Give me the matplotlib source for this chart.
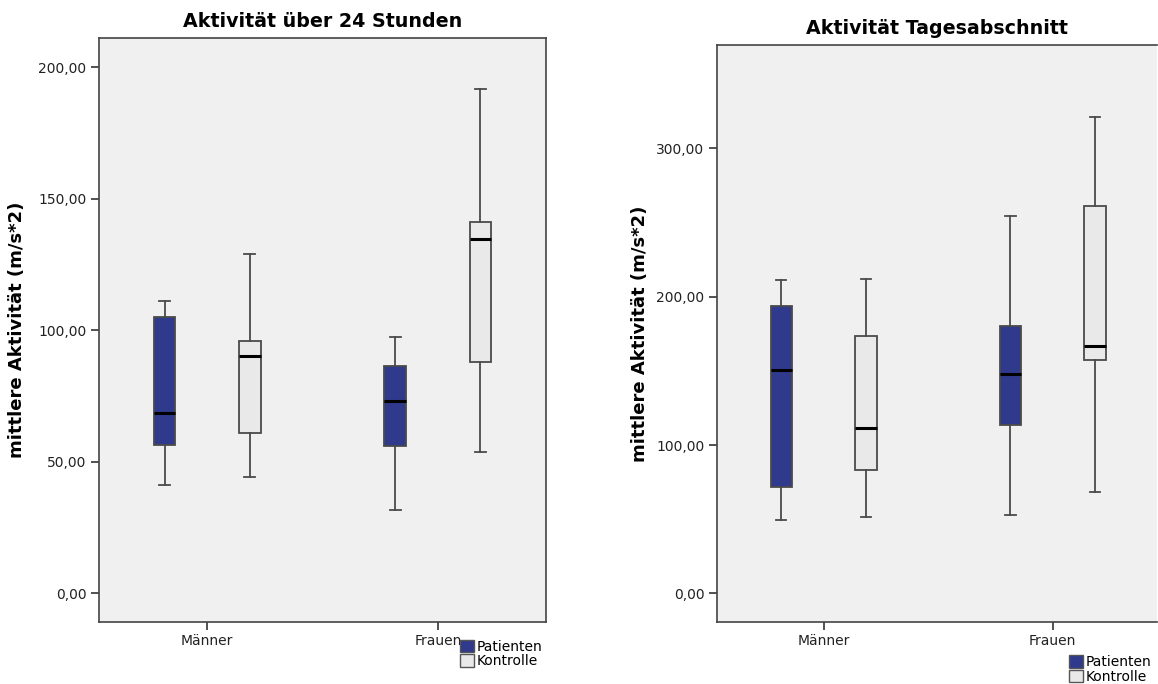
import numpy as np
import matplotlib
matplotlib.use("Agg")
import matplotlib.pyplot as plt
from matplotlib.patches import Patch
from matplotlib.ticker import FuncFormatter

groups = ["Männer", "Frauen"]
series = ["Patienten", "Kontrolle"]

# Aktivität über 24 Stunden
day_pat_lo = [41.0, 31.5]
day_pat_q1 = [56.4, 55.9]
day_pat_med = [68.5, 73.0]
day_pat_q3 = [105.1, 86.6]
day_pat_hi = [111.2, 97.6]

day_kon_lo = [44.3, 53.9]
day_kon_q1 = [61.1, 88.0]
day_kon_med = [90.1, 134.8]
day_kon_q3 = [96.1, 141.1]
day_kon_hi = [129.1, 191.7]

# Aktivität Tagesabschnitt
part_pat_lo = [49.4, 52.6]
part_pat_q1 = [71.5, 113.2]
part_pat_med = [150.6, 148.2]
part_pat_q3 = [193.8, 180.3]
part_pat_hi = [211.5, 254.7]

part_kon_lo = [51.5, 68.2]
part_kon_q1 = [83.2, 157.4]
part_kon_med = [111.2, 166.8]
part_kon_q3 = [173.2, 260.9]
part_kon_hi = [211.8, 320.9]

PAT_COLOR = "#2f3a8c"
KON_COLOR = "#e9e9e9"
BG = "#f0f0f0"


def stats(lo, q1, med, q3, hi):
    return [dict(whislo=a, q1=b, med=c, q3=d, whishi=e, fliers=[])
            for a, b, c, d, e in zip(lo, q1, med, q3, hi)]


def comma(v, pos):
    return f"{v:.2f}".replace(".", ",")


def draw_panel(ax, pat, kon, title, ylim, yticks, xlim, label_x):
    x = np.arange(len(groups))
    off, w = 0.185, 0.093
    for st, pos, col in [(pat, x - off, PAT_COLOR), (kon, x + off, KON_COLOR)]:
        ax.bxp(st, positions=pos, widths=w, showfliers=False, patch_artist=True,
               capwidths=w * 0.5,
               boxprops=dict(facecolor=col, edgecolor="#4a4a4a", linewidth=1.3),
               medianprops=dict(color="black", linewidth=2.2),
               whiskerprops=dict(color="#4a4a4a", linewidth=1.3),
               capprops=dict(color="#4a4a4a", linewidth=1.3))
    ax.set_facecolor(BG)
    ax.set_xlim(*xlim)
    ax.set_ylim(*ylim)
    ax.set_yticks(yticks)
    ax.yaxis.set_major_formatter(FuncFormatter(comma))
    ax.set_xticks(x)
    ax.set_xticklabels(groups)
    ax.tick_params(axis="both", length=6, width=1.2, color="#333333",
                   labelsize=10, labelcolor="#222222", pad=3)
    for s in ax.spines.values():
        s.set_color("#444444")
        s.set_linewidth(1.2)
    ax.set_title(title, fontsize=13.7, fontweight="bold", pad=8)
    ax.set_ylabel("mittlere Aktivität (m/s*2)", fontsize=13, fontweight="bold")
    ax.yaxis.set_label_coords(label_x, 0.5)


fig = plt.figure(figsize=(11.58, 6.84), dpi=100)
ax1 = fig.add_axes([0.0855, 0.0911, 0.386, 0.853])
ax2 = fig.add_axes([0.619, 0.0911, 0.380, 0.843])

draw_panel(ax1,
           stats(day_pat_lo, day_pat_q1, day_pat_med, day_pat_q3, day_pat_hi),
           stats(day_kon_lo, day_kon_q1, day_kon_med, day_kon_q3, day_kon_hi),
           "Aktivität über 24 Stunden", (-10.8, 211.1), [0, 50, 100, 150, 200],
           (-0.469, 1.469), -0.164)
draw_panel(ax2,
           stats(part_pat_lo, part_pat_q1, part_pat_med, part_pat_q3, part_pat_hi),
           stats(part_kon_lo, part_kon_q1, part_kon_med, part_kon_q3, part_kon_hi),
           "Aktivität Tagesabschnitt", (-19.1, 369.7), [0, 100, 200, 300],
           (-0.466, 1.455), -0.153)
ax2.spines["right"].set_visible(False)

handles = [Patch(facecolor=PAT_COLOR, edgecolor="#555555", label=series[0]),
           Patch(facecolor=KON_COLOR, edgecolor="#555555", label=series[1])]
for anchor in [(0.397, 0.065), (0.923, 0.042)]:
    fig.legend(handles=handles, loc="upper left", bbox_to_anchor=anchor,
               frameon=False, fontsize=10, handlelength=1.0, handleheight=1.0,
               handletextpad=0.2, labelspacing=0.05, borderpad=0, borderaxespad=0)

fig.savefig("out.png", dpi=100)
